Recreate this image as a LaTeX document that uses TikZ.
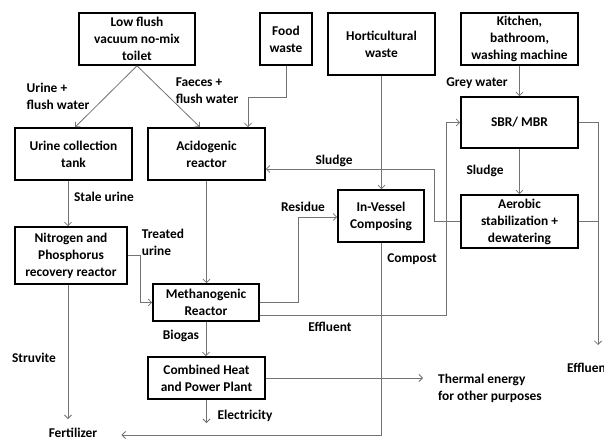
\documentclass[tikz,border=0pt]{standalone}
\usepackage{fontspec}
\setmainfont{Carlito}
\usetikzlibrary{arrows.meta,calc}
\begin{document}
\begin{tikzpicture}[x=1pt,y=-1pt,
  font=\bfseries\fontsize{13.4}{17}\selectfont,
  box/.style={draw=black, line width=1.6pt, align=center, inner sep=0pt},
  conn/.style={draw=black!55, line width=0.8pt, -{Straight Barb[length=3.5pt,width=7pt]}},
  line/.style={draw=black!55, line width=0.8pt},
  lbl/.style={inner sep=0pt, align=left}]
\useasboundingbox (0,0) rectangle (604,441);
\fill[white] (0,0) rectangle (604,441);
% boxes
\node[box, minimum width=116pt, minimum height=52pt] (toilet) at (137,39) {Low flush\\vacuum no-mix\\toilet};
\node[box, minimum width=52pt, minimum height=52pt] (food) at (286,39) {Food\\waste};
\node[box, minimum width=107pt, minimum height=62pt] (hort) at (381.5,44) {Horticultural\\waste};
\node[box, minimum width=117pt, minimum height=52pt] (kitchen) at (519.5,39) {Kitchen,\\bathroom,\\washing machine};
\node[box, minimum width=117pt, minimum height=52pt] (urine) at (73.5,154) {Urine collection\\tank};
\node[box, minimum width=117pt, minimum height=52pt] (acid) at (206.5,154) {Acidogenic\\reactor};
\node[box, minimum width=117pt, minimum height=51pt] (sbr) at (519.5,122.5) {SBR/ MBR};
\node[box, minimum width=112pt, minimum height=57pt] (nitro) at (71,255.5) {Nitrogen and\\Phosphorus\\recovery reactor};
\node[box, minimum width=86pt, minimum height=52pt] (vessel) at (381,216) {In-Vessel\\Composing};
\node[box, minimum width=117pt, minimum height=53pt] (aerobic) at (519.5,221.5) {Aerobic\\stabilization +\\dewatering};
\node[box, minimum width=106pt, minimum height=37pt] (meth) at (206,302.5) {Methanogenic\\Reactor};
\node[box, minimum width=117pt, minimum height=42pt] (chp) at (206.5,378) {Combined Heat\\and Power Plant};
% free text
\node[lbl] (fert) at (73,432.5) {Fertilizer};
\node[lbl, anchor=west] (thermal) at (438,388) {Thermal energy\\for other purposes};
\node[lbl, anchor=west] (effl) at (567,368) {Effluent};
\coordinate (sEnd) at (68,419);
\coordinate (elecEnd) at (206.5,423);
\coordinate (effEnd) at (598,345);
% labels
\node[lbl] at (58,96) {Urine +\\flush water};
\node[lbl] at (207,91) {Faeces +\\flush water};
\node[lbl] at (477,83) {Grey water};
\node[lbl] at (104,197) {Stale urine};
\node[lbl] at (163,242) {Treated\\urine};
\node[lbl] at (303,207) {Residue};
\node[lbl] at (334,161) {Sludge};
\node[lbl] at (485,171) {Sludge};
\node[lbl] at (412,259) {Compost};
\node[lbl] at (330,327) {Effluent};
\node[lbl] at (34,358) {Struvite};
\node[lbl] at (245,416) {Electricity};
\node[lbl] at (181,336) {Biogas};
% connectors
\draw[conn] (toilet.south) -- ([xshift=1.5pt]urine.north);
\draw[conn] (toilet.south) -- ([xshift=-6.5pt]acid.north);
\draw[conn] (food.south) -- ++(0,32) -| ([xshift=41.5pt]acid.north);
\draw[conn] (hort.south) -- (hort.south |- vessel.north);
\draw[conn] (kitchen.south) -- (sbr.north);
\draw[conn] ([xshift=-5.5pt]urine.south) -- ([xshift=-5.5pt]urine.south |- nitro.north);
\draw[conn] (nitro.east) -- ++(13,0) |- (meth.west);
\draw[conn] (nitro.south -| sEnd) -- (sEnd);
\draw[conn] (acid.south) -- (acid.south |- meth.north);
\draw[conn] (meth.east) -- ++(39,0) |- ([yshift=-1pt]vessel.west);
\draw[conn] ([yshift=-12.5pt]meth.east) -- ++(187,0) |- (sbr.west);
\draw[conn] (aerobic.west) -- ++(-26,0) |- ([yshift=-15pt]acid.east);
\draw[conn] (sbr.south) -- (aerobic.north);
\draw[conn] (sbr.east) -| (effEnd);
\draw[line] (aerobic.east) -- (aerobic.east -| effEnd);
\draw[conn] (vessel.south) |- ([xshift=24pt,yshift=-2.5pt]fert.east);
\draw[conn] (chp.east) -- ($(chp.east -| thermal.west)+(-15,0)$);
\draw[conn] (chp.south) -- (elecEnd);
\draw[conn] (meth.south) -- (meth.south |- chp.north);
\end{tikzpicture}
\end{document}
